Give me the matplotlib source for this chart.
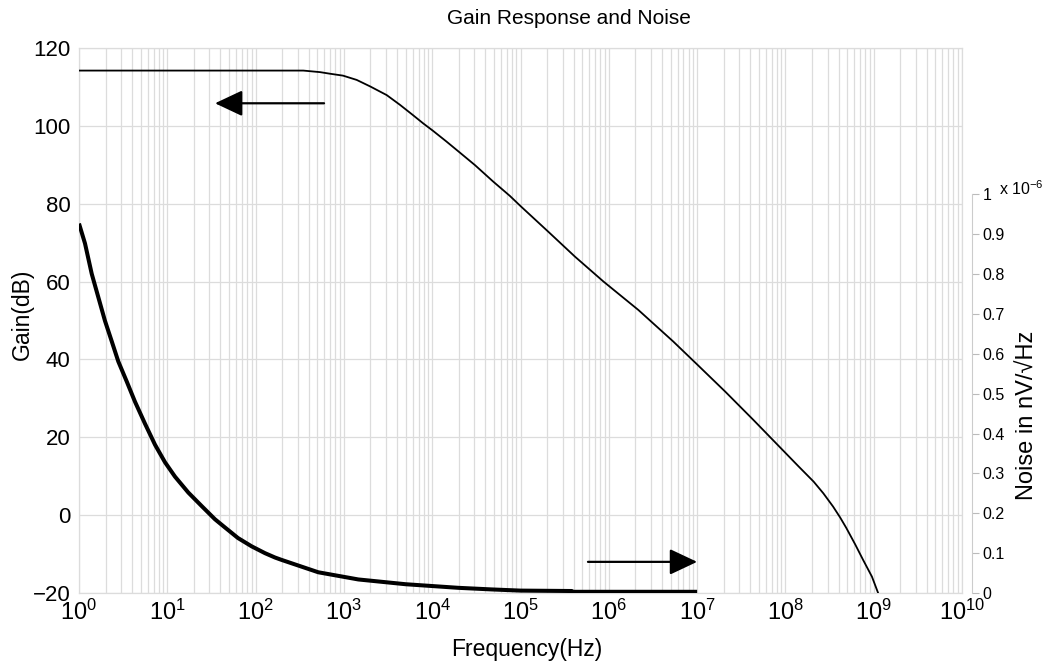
import numpy as np
import matplotlib
matplotlib.use("Agg")
import matplotlib.pyplot as plt
from matplotlib.ticker import LogLocator, NullFormatter, FixedLocator, FixedFormatter

plt.rcParams['font.family'] = ['Liberation Sans', 'DejaVu Sans']
plt.rcParams['mathtext.fontset'] = 'custom'
plt.rcParams['mathtext.rm'] = 'Liberation Sans'
plt.rcParams['mathtext.it'] = 'Liberation Sans'

# ---- data (frequency given as log10 of Hz) ----
gain_log10f = [0.0, 2.276, 2.54, 2.73, 2.84, 2.99, 3.145, 3.30, 3.485, 3.635, 3.78, 3.90,
               4.005, 4.16, 4.315, 4.485, 4.69, 4.88, 5.0,
               5.315, 5.617, 5.94, 6.335, 6.73, 7.01, 7.32, 7.64, 7.94,
               8.15, 8.32, 8.43, 8.54, 8.62, 8.69, 8.79, 8.88, 8.98, 9.05]
gain_db = [114.2, 114.2, 114.2, 113.8, 113.4, 112.9, 111.8, 110.1, 107.9, 105.4, 102.8, 100.6,
           98.8, 96.0, 93.1, 89.9, 85.7, 82.0, 79.4,
           72.8, 66.4, 60.0, 52.7, 44.6, 38.5, 31.7, 24.4, 17.4,
           12.5, 8.6, 5.6, 2.2, -0.6, -3.3, -7.5, -11.5, -15.8, -20.0]

noise_log10f = [0.0, 0.068, 0.144, 0.219, 0.294, 0.370, 0.445, 0.540, 0.634, 0.747, 0.861,
                0.974, 1.087, 1.238, 1.39, 1.54, 1.65, 1.80, 1.956, 2.106, 2.22,
                2.295, 2.71, 3.163, 3.70, 4.295, 4.67, 5.0, 5.58, 5.59, 7.0]
noise_uv = [0.927, 0.877, 0.801, 0.742, 0.683, 0.632, 0.581, 0.531, 0.480, 0.425, 0.372,
            0.328, 0.292, 0.252, 0.218, 0.185, 0.165, 0.138, 0.117, 0.100, 0.089,
            0.083, 0.052, 0.034, 0.022, 0.013, 0.009, 0.006, 0.005, 0.003, 0.003]  # x 1e-6

x_ticks = [10**k for k in range(0, 11)]
x_labels = [r'$10^{%d}$' % k for k in range(0, 11)]
gain_ticks = [-20, 0, 20, 40, 60, 80, 100, 120]
noise_ticks = [0, 0.1, 0.2, 0.3, 0.4, 0.5, 0.6, 0.7, 0.8, 0.9, 1.0]
noise_labels = ['0', '0.1', '0.2', '0.3', '0.4', '0.5', '0.6', '0.7', '0.8', '0.9', '1']

# arrows ((tail freq, gain), (tip freq, gain))
left_arrow = ((596, 105.8), (34.7, 105.8))
right_arrow = ((581000, -12.0), (1.0e7, -12.0))

gain_freq = np.power(10.0, gain_log10f)
noise_freq = np.power(10.0, noise_log10f)

W, H = 1048, 666
fig = plt.figure(figsize=(W / 100, H / 100), dpi=100)
fig.patch.set_facecolor('white')
ax = fig.add_axes([79 / W, 1 - 593 / H, (962 - 79) / W, (593 - 48) / H])

grid_c = '#dcdcdc'
ax.set_xscale('log')
ax.set_xlim(1, 1e10)
ax.set_ylim(-20, 120)
ax.xaxis.set_major_locator(FixedLocator(x_ticks))
ax.xaxis.set_major_formatter(FixedFormatter(x_labels))
ax.xaxis.set_minor_locator(LogLocator(base=10, subs=np.arange(2, 10), numticks=200))
ax.xaxis.set_minor_formatter(NullFormatter())
ax.set_yticks(gain_ticks)
ax.grid(True, which='both', axis='x', color=grid_c, lw=0.9)
ax.grid(True, which='major', axis='y', color=grid_c, lw=0.9)
ax.set_axisbelow(True)
ax.tick_params(axis='both', which='both', length=0)
ax.tick_params(axis='x', labelsize=17, pad=5)
ax.tick_params(axis='y', labelsize=16, pad=6)
for s in ax.spines.values():
    s.set_color(grid_c)
    s.set_linewidth(0.9)

ax.plot(gain_freq, gain_db, color='black', lw=1.3, zorder=3, solid_joinstyle='round')

ax.set_xlabel('Frequency(Hz)', fontsize=16.5)
ax.xaxis.set_label_coords((527 - 79) / 883, 1 - (638 - 48) / 545)
ax.set_ylabel('Gain(dB)', fontsize=16.5)
ax.yaxis.set_label_coords((34 - 79) / 883, 1 - (314 - 48) / 545)

for (tail, tip) in (left_arrow, right_arrow):
    ax.annotate('', xy=tip, xytext=tail,
                arrowprops=dict(arrowstyle='-|>,head_length=0.85,head_width=0.4',
                                color='black', lw=1.6, mutation_scale=20,
                                shrinkA=0, shrinkB=0), zorder=4)

# right axis
ax2 = ax.twinx()
ax2.set_ylim(0, 1.3675)
ax2.plot(noise_freq, noise_uv, color='black', lw=2.9, zorder=3,
         solid_capstyle='butt', solid_joinstyle='round')
ax2.set_yticks(noise_ticks)
ax2.set_yticklabels(noise_labels)
for k in ('left', 'top', 'bottom'):
    ax2.spines[k].set_visible(False)
ax2.spines['right'].set_position(('outward', 7))
ax2.spines['right'].set_bounds(0, 1.0)
ax2.spines['right'].set_color('#cccccc')
ax2.tick_params(axis='y', direction='out', length=5, width=0.8, color='#bbbbbb',
                labelsize=11.5, pad=3)
ax2.set_ylabel('Noise in nV/√Hz', fontsize=17, rotation=90)
ax2.yaxis.set_label_coords((1017 - 79) / 883, 1 - (415 - 48) / 545)
fig.text(999 / W, 1 - 189 / H, r'x $10^{-6}$', fontsize=11.5, ha='left', va='center')

fig.text(569 / W, 1 - 18 / H, 'Gain Response and Noise', fontsize=15,
         ha='center', va='center')

fig.savefig('out.png', dpi=100)
